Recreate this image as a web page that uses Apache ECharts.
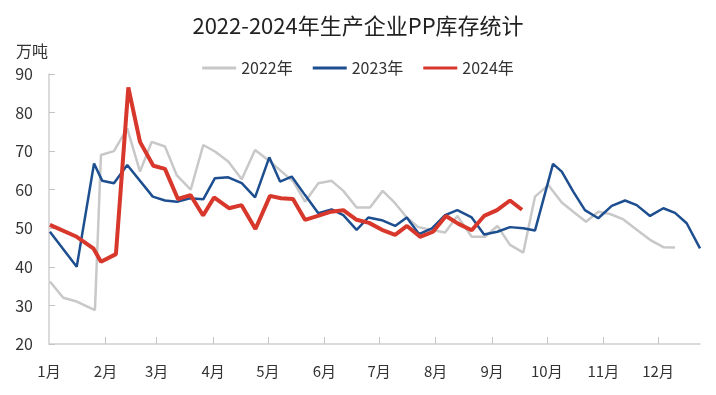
<!DOCTYPE html>
<html>
<head>
<meta charset="utf-8">
<script src="https://cdn.jsdelivr.net/npm/echarts@6/dist/echarts.min.js"></script>
<style>
html,body{margin:0;padding:0;background:#fff;}
#c{width:716px;height:395px;}
</style>
</head>
<body>
<div id="c"></div>
<script>
const monthLabels = ['1月','2月','3月','4月','5月','6月','7月','8月','9月','10月','11月','12月'];
const monthStartDays = [0,31,59,90,120,151,181,212,243,273,304,334];
const yTicks = [20,30,40,50,60,70,80,90];

const days2022 = [0.5,7.8,15.2,25.2,28.5,35.6,42.9,49.9,56.3,63.6,70,77.7,84.6,91,98.3,105.7,113,121.2,127.6,134,140.4,147.7,155,161.4,168.7,176,183,189.8,196.2,202.5,210.6,217.2,223.9,231.8,239.1,245.9,252.8,260.1,266.5,273.8,281.2,287.5,294.5,301.2,307.7,315,322.3,329.6,336.9,343.3];
const values2022 = [36.2,32,31,28.8,69,70,75.9,64.7,72.4,71.2,63.8,60,71.6,69.9,67.3,62.7,70.3,67.3,64.7,62.1,56.9,61.7,62.3,59.7,55.4,55.4,59.7,56.5,52.8,50.3,49.5,48.9,53.2,47.8,47.8,50.6,45.7,43.7,58.2,61.2,56.7,54.3,51.7,54.3,53.7,52.3,49.6,47,45.1,45];

const days2023 = [0.5,15.2,24.7,29.2,35.6,42.9,56.9,63.6,70.2,77.3,84.6,91,98.3,105.7,113,120.8,126.7,133.1,140.4,147.7,155,161.4,168.7,175.1,182.5,189.8,196.2,202.9,210,217.2,223.9,231.8,238.6,245.9,252.8,260.1,266.5,276.4,281.2,287.5,293.9,301.2,308.6,315.9,322.3,329.6,336.9,343.3,349.7,357];
const values2023 = [49.1,40,66.8,62.3,61.7,66.4,58.2,57.2,56.9,57.8,57.5,63,63.2,61.7,58,68.4,62.1,63.4,58.6,53.9,54.9,53.4,49.6,52.8,52.1,50.6,52.8,48.5,50,53.4,54.7,52.8,48.4,49.1,50.3,50,49.4,66.7,64.7,59.5,54.7,52.6,55.8,57.2,56,53.2,55.2,54,51.3,44.8];

const days2024 = [0.5,15.2,24.3,28.5,36.7,43.5,49.9,57.2,63.6,70.7,77.6,84.5,90.5,98.7,105.6,113.2,121.2,127.2,133.8,140.4,147.5,154.7,161.4,168.7,175.5,182.6,189.8,196.3,203.5,210.6,217.7,224.3,231.8,238.6,245.7,252.8,259.4];
const values2024 = [50.9,47.8,44.8,41.3,43.3,86.5,72.4,66.2,65.4,57.6,58.6,53.3,58,55.2,56,49.8,58.4,57.8,57.6,52.2,53.2,54.3,54.7,52.2,51.4,49.6,48.3,50.6,47.8,49.1,53.2,51.2,49.5,53.2,54.7,57.2,54.8];

const pair = (d, v) => d.map((x, i) => [x, v[i]]);

const chart = echarts.init(document.getElementById('c'));
const font = '"Noto Sans CJK SC", "Noto Sans", sans-serif';
chart.setOption({
  animation: false,
  textStyle: { fontFamily: font },
  title: [
    { text: '2022-2024年生产企业PP库存统计', left: 'center', top: 10,
      textStyle: { fontSize: 22, fontWeight: 'normal', color: '#222', fontFamily: font } },
    { text: '万吨', left: 11, top: 38,
      textStyle: { fontSize: 16, fontWeight: 'normal', color: '#333', fontFamily: font } }
  ],
  legend: {
    top: 55, left: 'center', itemWidth: 34, itemHeight: 3, itemGap: 20,
    icon: 'rect',
    textStyle: { fontSize: 16, color: '#333', fontFamily: font },
    data: ['2022年','2023年','2024年']
  },
  grid: { left: 49, right: 16, top: 74, bottom: 51, containLabel: false },
  xAxis: {
    type: 'value', min: 0, max: 357,
    axisLine: { lineStyle: { color: '#cfcfcf', width: 1.5 } },
    axisTick: { show: true, inside: true, length: 7, customValues: monthStartDays.slice(1), lineStyle: { color: '#c4c4c4', width: 1 } },
    axisLabel: { customValues: monthStartDays, margin: 20, fontSize: 15, color: '#333',
      formatter: v => monthLabels[monthStartDays.indexOf(v)] },
    splitLine: { show: false }
  },
  yAxis: {
    type: 'value', min: yTicks[0], max: yTicks[yTicks.length - 1], interval: 10,
    axisLine: { show: true, lineStyle: { color: '#cfcfcf', width: 1.5 } },
    axisTick: { show: true, inside: true, length: 6, lineStyle: { color: '#c4c4c4', width: 1 } },
    axisLabel: { fontSize: 16, color: '#333', margin: 16 },
    splitLine: { show: false }
  },
  series: [
    { name: '2022年', type: 'line', data: pair(days2022, values2022), showSymbol: false,
      lineStyle: { color: '#c8c8c8', width: 2.5 }, itemStyle: { color: '#c8c8c8' }, z: 1 },
    { name: '2023年', type: 'line', data: pair(days2023, values2023), showSymbol: false,
      lineStyle: { color: '#1d4e8f', width: 2.5 }, itemStyle: { color: '#1d4e8f' }, z: 2 },
    { name: '2024年', type: 'line', data: pair(days2024, values2024), showSymbol: false,
      lineStyle: { color: '#d8372b', width: 4 }, itemStyle: { color: '#d8372b' }, z: 3 }
  ]
});
</script>
</body>
</html>
